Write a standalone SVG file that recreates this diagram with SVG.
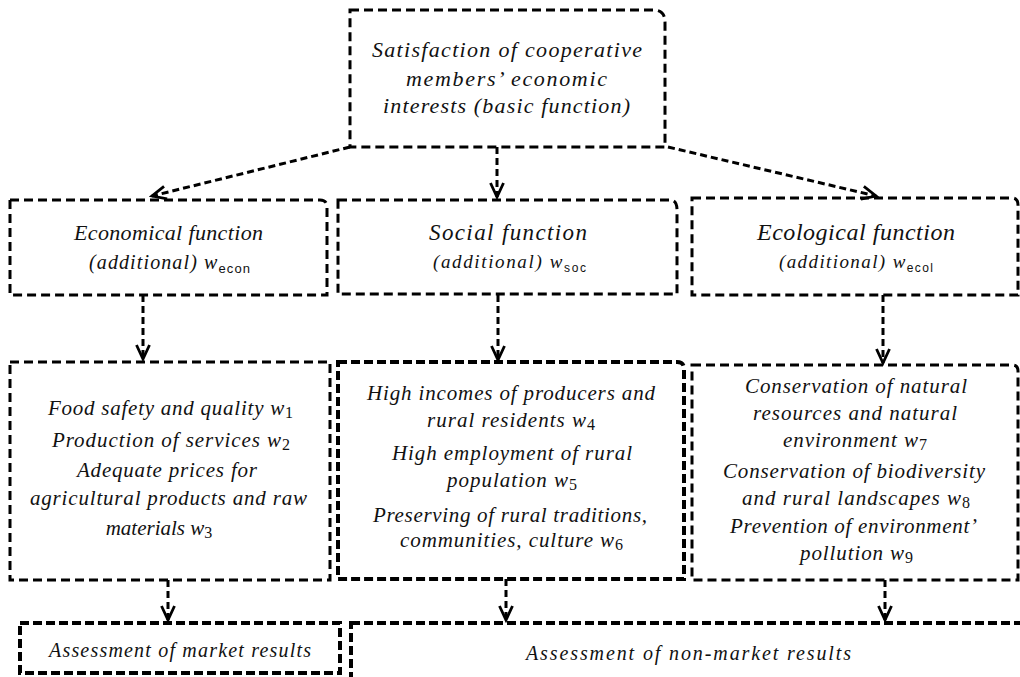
<svg xmlns="http://www.w3.org/2000/svg" width="1020" height="677" viewBox="0 0 1020 677">
<style>
.box{fill:none;stroke:#000;stroke-width:3;stroke-dasharray:9 5}
.boxb{fill:none;stroke:#000;stroke-width:4;stroke-dasharray:9 4}
.conn{fill:none;stroke:#000;stroke-width:3;stroke-dasharray:7 4}
.t{font-family:"Liberation Serif","Times New Roman",serif;font-style:italic;fill:#111}
.s{font-family:"Liberation Sans",Arial,sans-serif;font-style:normal}
.n{font-family:"Liberation Serif","Times New Roman",serif;font-style:normal}
</style>
<defs>
<marker id="arr" markerUnits="userSpaceOnUse" markerWidth="18" markerHeight="16" refX="15" refY="8" orient="auto" viewBox="0 0 18 16">
<path d="M1,1.5 L15,8 L1,14.5" fill="none" stroke="#000" stroke-width="2.8"/>
</marker>
</defs>
<rect width="1020" height="677" fill="#fff"/>

<g id="connectors">
<path class="conn" d="M350,147 L152,196" marker-end="url(#arr)"/>
<path class="conn" d="M497,147 L497,197" marker-end="url(#arr)"/>
<path class="conn" d="M668,147 L876,196" marker-end="url(#arr)"/>
<path class="conn" d="M143,295 L143,359" marker-end="url(#arr)"/>
<path class="conn" d="M498,295 L498,360" marker-end="url(#arr)"/>
<path class="conn" d="M883,295 L883,363" marker-end="url(#arr)"/>
<path class="conn" d="M168,580 L168,620" marker-end="url(#arr)"/>
<path class="conn" d="M506,579 L506,620" marker-end="url(#arr)"/>
<path class="conn" d="M885,580 L885,620" marker-end="url(#arr)"/>
</g>

<g id="basic">
<path class="box" d="M350,10 H653 Q665,10 665,22 V147 H350 Z"/>
<text class="t" font-size="22" x="372" y="57" textLength="270">Satisfaction of cooperative</text>
<text class="t" font-size="22" x="406" y="86" textLength="201">members’ economic</text>
<text class="t" font-size="22" x="383" y="113" textLength="247">interests (basic function)</text>
</g>

<g id="econ">
<path class="box" d="M10,200 H320 Q327,200 327,207 V295 H10 Z"/>
<text class="t" font-size="22" x="74" y="240" textLength="189">Economical function</text>
<text class="t" font-size="20" x="89" y="269" textLength="161">(additional) w<tspan class="s" font-size="13" dy="4">econ</tspan></text>
</g>

<g id="social">
<path class="box" d="M338,200 H670 Q677,200 677,210 V294 H338 Z"/>
<text class="t" font-size="23" x="429" y="240" textLength="158">Social function</text>
<text class="t" font-size="19" x="433" y="268" textLength="153">(additional) w<tspan class="s" font-size="12" dy="4">soc</tspan></text>
</g>

<g id="ecol">
<path class="box" d="M692,198 H1012 Q1018,198 1018,205 V295 H692 Z"/>
<text class="t" font-size="24" x="757" y="240" textLength="198">Ecological function</text>
<text class="t" font-size="19" x="779" y="268" textLength="154">(additional) w<tspan class="s" font-size="12" dy="4">ecol</tspan></text>
</g>

<g id="econ-results">
<rect class="box" x="10" y="362" width="320" height="218"/>
<text class="t" font-size="21" x="48" y="415" textLength="245">Food safety and quality w<tspan class="n" font-size="16" dy="3">1</tspan></text>
<text class="t" font-size="21" x="52" y="447" textLength="238">Production of services w<tspan class="n" font-size="16" dy="3">2</tspan></text>
<text class="t" font-size="21" x="77" y="477" textLength="180">Adequate prices for</text>
<text class="t" font-size="21" x="30" y="505" textLength="277">agricultural products and raw</text>
<text class="t" font-size="21" x="159" y="535" text-anchor="middle">materials w<tspan class="n" font-size="16" dy="3">3</tspan></text>
</g>

<g id="social-results">
<path class="boxb" d="M338,362 H677 Q684,362 684,369 V579 H338 Z"/>
<text class="t" font-size="21" x="367" y="400" textLength="288">High incomes of producers and</text>
<text class="t" font-size="21" x="427" y="427" textLength="168">rural residents w<tspan class="n" font-size="16" dy="3">4</tspan></text>
<text class="t" font-size="21" x="392" y="460" textLength="240">High employment of rural</text>
<text class="t" font-size="21" x="447" y="487" textLength="130">population w<tspan class="n" font-size="16" dy="3">5</tspan></text>
<text class="t" font-size="21" x="373" y="522" textLength="274">Preserving of rural traditions,</text>
<text class="t" font-size="21" x="400" y="547" textLength="223">communities, culture w<tspan class="n" font-size="16" dy="3">6</tspan></text>
</g>

<g id="ecol-results">
<path class="box" d="M692,365 H1012 Q1018,365 1018,371 V580 H692 Z"/>
<text class="t" font-size="21" x="745" y="393" textLength="222">Conservation of natural</text>
<text class="t" font-size="21" x="753" y="420" textLength="204">resources and natural</text>
<text class="t" font-size="21" x="783" y="447" textLength="144">environment w<tspan class="n" font-size="16" dy="3">7</tspan></text>
<text class="t" font-size="21" x="723" y="478" textLength="262">Conservation of biodiversity</text>
<text class="t" font-size="21" x="742" y="505" textLength="228">and rural landscapes w<tspan class="n" font-size="16" dy="3">8</tspan></text>
<text class="t" font-size="21" x="730" y="533" textLength="247">Prevention of environment’</text>
<text class="t" font-size="21" x="800" y="560" textLength="113">pollution w<tspan class="n" font-size="16" dy="3">9</tspan></text>
</g>

<g id="market">
<rect class="boxb" x="20" y="623" width="320" height="50"/>
<text class="t" font-size="20" x="49" y="657" textLength="262">Assessment of market results</text>
</g>

<g id="nonmarket">
<rect class="boxb" x="351" y="623" width="690" height="80"/>
<text class="t" font-size="20" x="526" y="660" textLength="325">Assessment of non-market results</text>
</g>
</svg>
